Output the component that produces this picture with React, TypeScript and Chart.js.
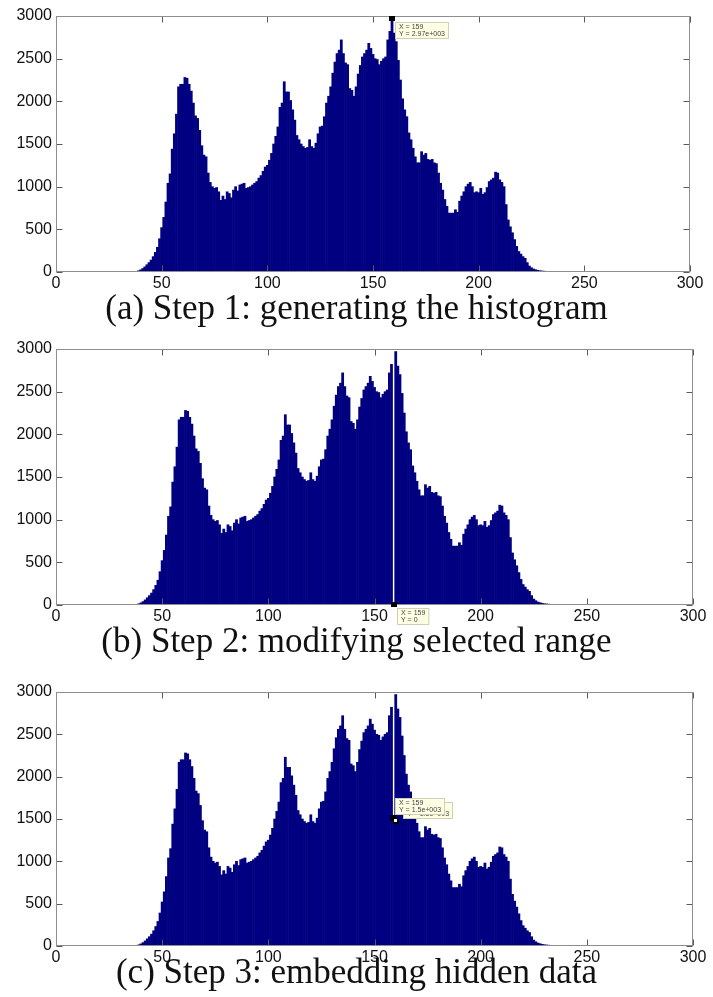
import React, { useEffect, useRef } from "react";
import { Chart, registerables } from "chart.js";

Chart.register(...registerables);

// ---------- data ----------
const binStart = 35; // first grey level with a value listed below
// histogram counts for grey levels 35..245 (panel a)
const histogramCounts = [
  0, 2, 4, 8, 14, 25, 40, 60, 85, 110,
  140, 180, 230, 290, 390, 520, 640, 820, 1040, 1150,
  1440, 1620, 1850, 2170, 2200, 2200, 2280, 2270, 2200, 2120,
  1980, 1830, 1800, 1660, 1480, 1370, 1350, 1160, 1050, 1000,
  980, 990, 940, 840, 890, 850, 940, 920, 870, 960,
  1000, 950, 1020, 1030, 1040, 980, 990, 1000, 1020, 1040,
  1060, 1100, 1130, 1180, 1230, 1250, 1310, 1390, 1500, 1590,
  1700, 1930, 1980, 2230, 2110, 2110, 2010, 1900, 1780, 1600,
  1550, 1500, 1470, 1450, 1460, 1550, 1470, 1450, 1510, 1620,
  1700, 1710, 1820, 1980, 2060, 2170, 2330, 2460, 2560, 2600,
  2720, 2560, 2450, 2430, 2150, 2130, 2060, 2170, 2320, 2420,
  2520, 2560, 2600, 2680, 2620, 2550, 2500, 2490, 2430, 2470,
  2500, 2520, 2720, 2820, 2970, 2800, 2700, 2480, 2250, 2030,
  1900, 1820, 1630, 1550, 1450, 1350, 1280, 1280, 1410, 1370,
  1390, 1320, 1310, 1320, 1280, 1270, 1160, 1040, 960, 850,
  770, 690, 690, 690, 730, 700, 830, 890, 940, 1000,
  1030, 1050, 1000, 930, 940, 930, 980, 910, 930, 990,
  1060, 1080, 1100, 1170, 1160, 1080, 1050, 1000, 790, 610,
  530, 460, 380, 300, 240, 210, 180, 160, 110, 70,
  50, 35, 27, 20, 15, 12, 10, 8, 8, 6,
  6, 5, 5, 4, 4, 3, 3, 2, 2, 1, 1,
];
const gapBin = 159; // selected peak bin
const peakCount = 2970;
const emptiedCount = 0;
const embeddedCount = 1500;

// panel b: bins from the peak onward moved one level right, peak bin emptied
const countsModified = [
  ...histogramCounts.slice(0, gapBin - binStart),
  emptiedCount,
  ...histogramCounts.slice(gapBin - binStart),
];
// panel c: peak bin refilled by the embedded data
const countsEmbedded = countsModified.map((v, i) =>
  i === gapBin - binStart ? embeddedCount : v
);

const xTicks = [0, 50, 100, 150, 200, 250, 300];
const yTicks = [0, 500, 1000, 1500, 2000, 2500, 3000];
const captions = [
  "(a) Step 1: generating the histogram",
  "(b) Step 2: modifying selected range",
  "(c) Step 3: embedding hidden data",
];
const tipTexts = [
  ["X = 159", "Y = 2.97e+003"],
  ["X = 159", "Y = 0"],
  ["X = 159", "Y = 1.5e+003"],
];
const tipValues = [peakCount, emptiedCount, embeddedCount];

// ---------- layout ----------
const W = 713;
const CANVAS_H = 300;
const panels = [
  { counts: histogramCounts, top: 0, plotTop: 16, plotBottom: 272, plotRight: 690, tipAbove: false, doubleTip: false, captionTop: 290 },
  { counts: countsModified, top: 333, plotTop: 349, plotBottom: 605, plotRight: 693, tipAbove: false, doubleTip: false, captionTop: 623 },
  { counts: countsEmbedded, top: 676, plotTop: 692, plotBottom: 946, plotRight: 693, tipAbove: true, doubleTip: true, captionTop: 954 },
];

function drawTipBox(ctx: CanvasRenderingContext2D, x: number, y: number, lines: string[]) {
  ctx.font = '7px "Liberation Sans", Arial, sans-serif';
  const w = Math.max(...lines.map((l) => ctx.measureText(l).width)) + 8;
  const h = 17;
  ctx.fillStyle = "#FFFFE4";
  ctx.fillRect(x, y, w, h);
  ctx.strokeStyle = "#CFCFB8";
  ctx.lineWidth = 1;
  ctx.strokeRect(x + 0.5, y + 0.5, w - 1, h - 1);
  ctx.fillStyle = "#444";
  ctx.textBaseline = "middle";
  ctx.textAlign = "left";
  ctx.fillText(lines[0], x + 4, y + 5);
  ctx.fillText(lines[1], x + 4, y + 12);
  return w;
}

const plainNumber = (v: any) => String(v);

function Panel({ idx }: { idx: number }) {
  const ref = useRef<HTMLCanvasElement | null>(null);
  const p = panels[idx];
  useEffect(() => {
    if (!ref.current) return;
    const framePlugin = {
      id: "frame" + idx,
      afterDatasetsDraw(chart: any) {
        const { ctx, chartArea, scales } = chart;
        const { left, right, top, bottom } = chartArea;
        const xs = scales.x;
        const ys = scales.y;
        ctx.save();
        const L = Math.round(left) + 0.5;
        const R = Math.round(right) - 0.5;
        const T = Math.round(top) + 0.5;
        const B = Math.round(bottom) - 0.5;
        // ticks
        ctx.strokeStyle = "#5a5a5a";
        ctx.lineWidth = 1;
        ctx.beginPath();
        xTicks.forEach((t) => {
          const px = Math.round(xs.getPixelForValue(t)) + 0.5;
          ctx.moveTo(px, B);
          ctx.lineTo(px, B - 6);
          ctx.moveTo(px, T);
          ctx.lineTo(px, T + 6);
        });
        yTicks.forEach((t) => {
          const py = Math.round(ys.getPixelForValue(t)) + 0.5;
          ctx.moveTo(L, py);
          ctx.lineTo(L + 6, py);
          ctx.moveTo(R, py);
          ctx.lineTo(R - 6, py);
        });
        ctx.stroke();
        // frame
        ctx.strokeStyle = "#8e8e8e";
        ctx.strokeRect(L, T, R - L, B - T);

        // data tip
        const px = xs.getPixelForValue(gapBin);
        const py = ys.getPixelForValue(tipValues[idx]);
        const lines = tipTexts[idx];
        if (p.tipAbove) {
          const bx = Math.round(px + 1);
          const by = Math.round(py - 4 - 17);
          if (p.doubleTip) drawTipBox(ctx, bx + 8, by + 4, lines);
          drawTipBox(ctx, bx, by, lines);
          ctx.fillStyle = "#000";
          ctx.fillRect(Math.round(px - 4), Math.round(py - 4), 6, 6);
          ctx.fillRect(Math.round(px - 1), Math.round(py - 1), 6, 6);
          ctx.fillStyle = "#fff";
          ctx.fillRect(Math.round(px), Math.round(py), 3, 3);
        } else {
          ctx.fillStyle = "#000";
          ctx.fillRect(Math.round(px - 3), Math.round(py - 3), 6, 5);
          drawTipBox(ctx, Math.round(px + 3), Math.round(py + 3), lines);
        }
        ctx.restore();
      },
    };
    const chart = new Chart(ref.current, {
      type: "bar",
      data: {
        datasets: [
          {
            data: p.counts.map((v, i) => ({ x: binStart + i, y: v })),
            backgroundColor: "#000080",
            borderWidth: 0,
            barPercentage: 1,
            categoryPercentage: 1,
          } as any,
        ],
      },
      options: {
        responsive: false,
        animation: false,
        events: [],
        layout: { padding: { top: p.plotTop - p.top, right: W - p.plotRight, left: 0, bottom: 0 } },
        plugins: { legend: { display: false }, tooltip: { enabled: false }, title: { display: false } },
        scales: {
          x: {
            type: "linear",
            min: 0,
            max: 300,
            offset: false,
            grid: { display: false, drawTicks: false },
            border: { display: false },
            ticks: {
              stepSize: 50,
              padding: 2,
              color: "#111",
              maxRotation: 0,
              autoSkip: false,
              callback: plainNumber,
              font: { family: '"Liberation Sans", Arial, sans-serif', size: 16 },
            },
            afterFit: (s: any) => {
              s.height = CANVAS_H - (p.plotBottom - p.top);
            },
          },
          y: {
            type: "linear",
            min: 0,
            max: 3000,
            grid: { display: false, drawTicks: false },
            border: { display: false },
            ticks: {
              stepSize: 500,
              padding: 4,
              color: "#111",
              callback: plainNumber,
              font: { family: '"Liberation Sans", Arial, sans-serif', size: 16 },
            },
            afterFit: (s: any) => {
              s.width = 56;
            },
          },
        },
      } as any,
      plugins: [framePlugin],
    });
    return () => chart.destroy();
  }, [idx]);
  return (
    <canvas
      ref={ref}
      width={W}
      height={CANVAS_H}
      style={{ position: "absolute", left: 0, top: p.top, width: W, height: CANVAS_H }}
    />
  );
}

export default function App() {
  return (
    <div style={{ position: "absolute", left: 0, top: 0, width: W, height: 997, background: "#fff", overflow: "hidden" }}>
      {panels.map((_, i) => (
        <Panel key={"c" + i} idx={i} />
      ))}
      {panels.map((p, i) => (
        <div
          key={"t" + i}
          style={{
            position: "absolute",
            left: 0,
            top: p.captionTop,
            width: W,
            textAlign: "center",
            fontFamily: '"Liberation Serif", "Times New Roman", serif',
            fontSize: 35,
            lineHeight: "35px",
            color: "#111",
            whiteSpace: "nowrap",
          }}
        >
          {captions[i]}
        </div>
      ))}
    </div>
  );
}
